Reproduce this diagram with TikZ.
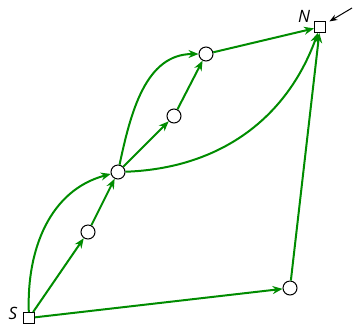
\documentclass[tikz,border=0pt]{standalone}
\usepackage{fontspec}
\setmainfont{Open Sans}
\usetikzlibrary{arrows.meta}
\definecolor{eg}{RGB}{0,140,0}
\begin{document}
\begin{tikzpicture}[x=1pt,y=-1pt,
  cnode/.style={circle,draw=black,fill=white,minimum size=14pt,inner sep=0pt,line width=1pt},
  snode/.style={rectangle,draw=black,fill=white,minimum size=11pt,inner sep=0pt,line width=1pt},
  edge/.style={draw=eg,line width=2pt,-{Stealth[length=10pt,width=8pt]}},
  lbl/.style={font=\itshape\fontsize{17}{17}\selectfont}]
\useasboundingbox (0,0) rectangle (355,325);
\node[snode] (S) at (29,318) {};
\node[snode] (N) at (320,27) {};
\node[cnode] (a) at (88,232) {};
\node[cnode] (b) at (118,172) {};
\node[cnode] (c) at (174,116) {};
\node[cnode] (d) at (206,54) {};
\node[cnode] (e) at (290,288) {};
\node[lbl] (sl) at (13,313) {S};
\node[lbl] (nl) at (304,16) {N};
\coordinate (ext) at (352,8);
\draw[edge] (S) -- (a);
\draw[edge] (S) to[out=92,in=195] (b);
\draw[edge] (a) -- (b);
\draw[edge] (b) -- (c);
\draw[edge] (c) -- (d);
\draw[edge] (b) to[out=78,in=180] (d);
\draw[edge] (d) -- (N);
\draw[edge] (b) to[out=2,in=-110] (N);
\draw[edge] (S) -- (e);
\draw[edge] (e) -- (N);
\draw[line width=1pt,-{Stealth[length=8pt,width=6pt]},shorten >=4pt] (ext) -- (N);
\end{tikzpicture}
\end{document}
